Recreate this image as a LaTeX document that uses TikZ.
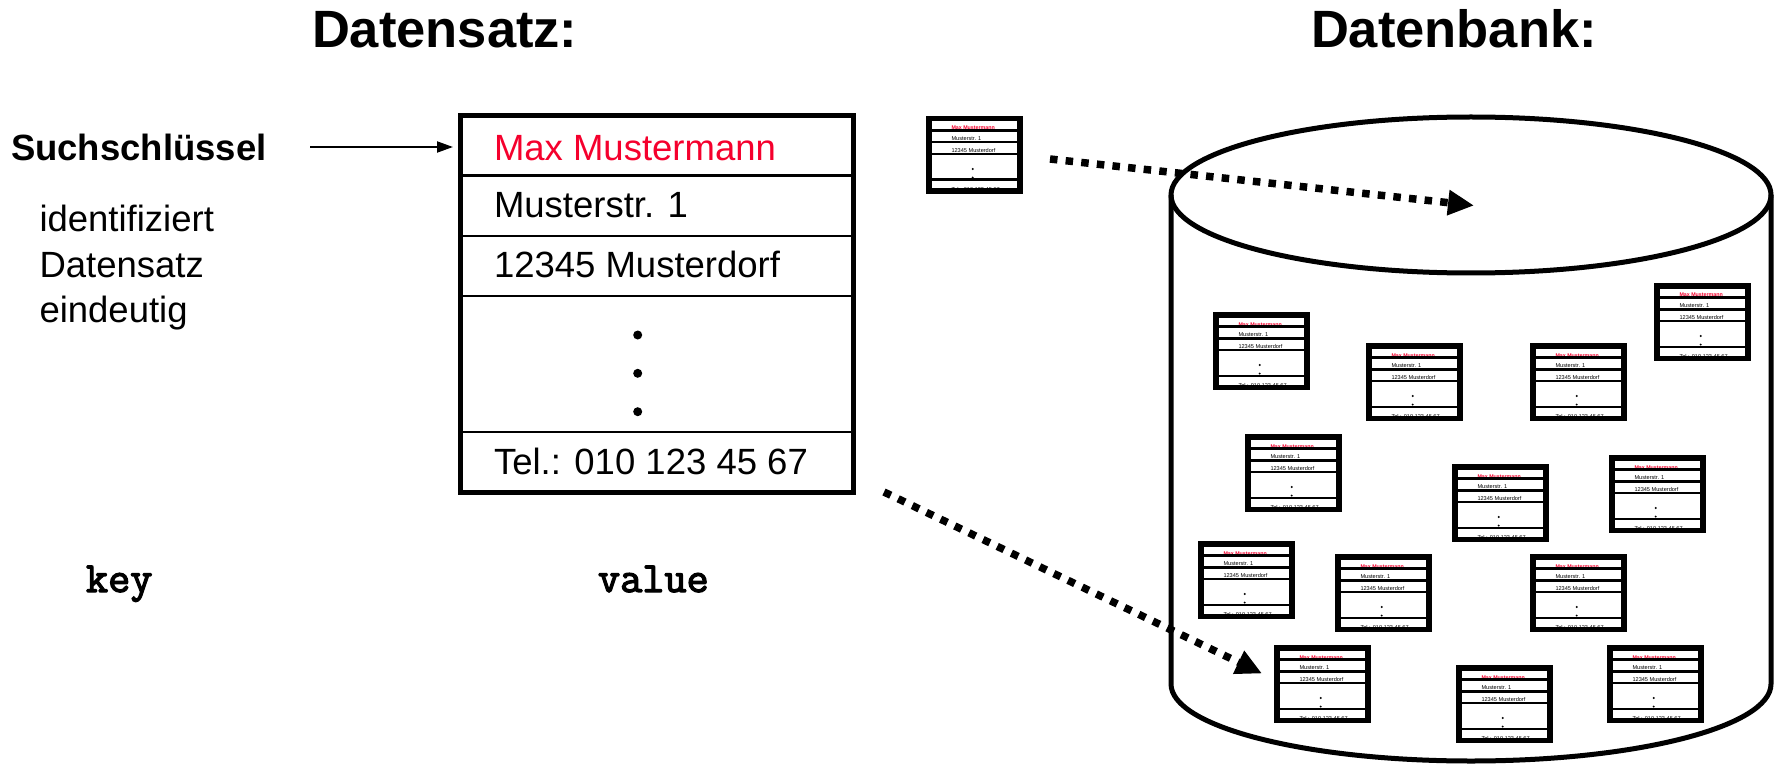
\documentclass[tikz,border=0pt]{standalone}
\usepackage{fontspec}
\setmainfont{Liberation Sans}
\newfontfamily\codefont{Latin Modern Mono}[FakeBold=3]
\usetikzlibrary{arrows.meta}
\definecolor{keyred}{RGB}{245,0,45}

\tikzset{
  txt/.style={anchor=base west, inner sep=0pt, outer sep=0pt},
  big/.style={font=\fontsize{36.5}{45}\selectfont},
  bigbold/.style={font=\fontsize{36.5}{45}\selectfont\bfseries},
  title/.style={txt, font=\fontsize{52.5}{60}\selectfont\bfseries},
  codeword/.style={txt, font=\fontsize{43}{46}\selectfont\codefont},
  rowline/.style={line width=2.5pt},
  dotarrow/.style={line width=7.5pt, dash pattern=on 7.5pt off 8.2pt,
    -{Triangle[length=26pt,width=24pt]}},
  tiny/.style={txt, font=\fontsize{5.6}{6}\selectfont},
  % miniature record card stored in the database
  minirec/.pic={
    \fill[white] (0,0) rectangle (96.5,78);
    \node[tiny, text=keyred, font=\fontsize{5.3}{6}\selectfont\bfseries] (-a) at (25.5,14) {Max Mustermann};
    \node[tiny] (-b) at (25.5,24.7) {Musterstr. 1};
    \node[tiny] (-c) at (25.5,36.3) {12345 Musterdorf};
    \node[tiny] (-e) at (25.5,75.2) {Tel.: 010 123 45 67};
    \fill (46.7,53) circle (1.1pt);
    \fill (46.7,61.6) circle (1.1pt);
    \draw[line width=2.4pt] (4,14.5) -- (92.5,14.5)
                            (4,26.3) -- (92.5,26.3)
                            (4,38.2) -- (92.5,38.2)
                            (4,63.7) -- (92.5,63.7);
    \draw[line width=5.5pt] (2.75,2.75) rectangle (93.75,75.25);
  }
}

\begin{document}
\begin{tikzpicture}[x=1pt,y=-1pt]
\useasboundingbox (0,0) rectangle (1774,767);

% headings
\node[title] (hrec) at (312,48) {Datensatz:};
\node[title] (hdb) at (1311,48) {Datenbank:};

% key side
\node[txt, bigbold] (such) at (11,161) {Suchschlüssel};
\node[txt, big] (id1) at (39.5,232) {identifiziert};
\node[txt, big] (id2) at (39.5,277) {Datensatz};
\node[txt, big] (id3) at (39.5,322) {eindeutig};
\node[codeword] (key) at (86,592) {key};
\node[codeword] (value) at (598,592) {value};

% the record
\node[draw, line width=5pt, minimum width=393pt, minimum height=377pt, inner sep=0pt] (rec) at (657.3,304.3) {};
\draw[rowline] (rec.west |- 0,175.7) -- (rec.east |- 0,175.7)
               (rec.west |- 0,236) -- (rec.east |- 0,236)
               (rec.west |- 0,296) -- (rec.east |- 0,296)
               (rec.west |- 0,432) -- (rec.east |- 0,432);
\node[txt, big, text=keyred] (fname) at (494,161) {Max Mustermann};
\node[txt, big] (fstreet) at (494,217.3) {Musterstr. 1};
\node[txt, big] (ftown) at (494,277.3) {12345 Musterdorf};
\node[txt, big] (fphone) at (494,474) {Tel.: 010 123 45 67};
\fill (637.7,335) circle (4.5pt) (637.7,373.3) circle (4.5pt) (637.7,411.7) circle (4.5pt);

% key arrow
\coordinate (ks) at (310,147);
\coordinate (ke) at (453,147);
\draw[line width=2pt, -{Triangle[length=16pt,width=11pt]}] (ks) -- (ke);

% database cylinder
\draw[line width=5pt] (1171,195) -- (1171,684)
  arc[start angle=180, end angle=360, x radius=300pt, y radius=77pt] -- (1771,195);
\draw[line width=5pt] (1471,195) ellipse [x radius=300pt, y radius=78pt];

% stored records
\pic (rt) at (926,116) {minirec};
\pic (r1) at (1213,312) {minirec};
\pic (r2) at (1654,283) {minirec};
\pic (r3) at (1366,343) {minirec};
\pic (r4) at (1530,343) {minirec};
\pic (r5) at (1245,434) {minirec};
\pic (r6) at (1452,464) {minirec};
\pic (r7) at (1609,455) {minirec};
\pic (r8) at (1198,541) {minirec};
\pic (r9) at (1335,554) {minirec};
\pic (r10) at (1530,554) {minirec};
\pic (r11) at (1274,645) {minirec};
\pic (r12) at (1456,665) {minirec};
\pic (r13) at (1607,645) {minirec};

% insertion arrows
\coordinate (s1) at (1050,159);
\coordinate (e1) at (1474,205.5);
\coordinate (s2) at (884,492);
\coordinate (e2) at (1262,673.5);
\draw[dotarrow] (s1) -- (e1);
\draw[dotarrow] (s2) -- (e2);
\end{tikzpicture}
\end{document}
